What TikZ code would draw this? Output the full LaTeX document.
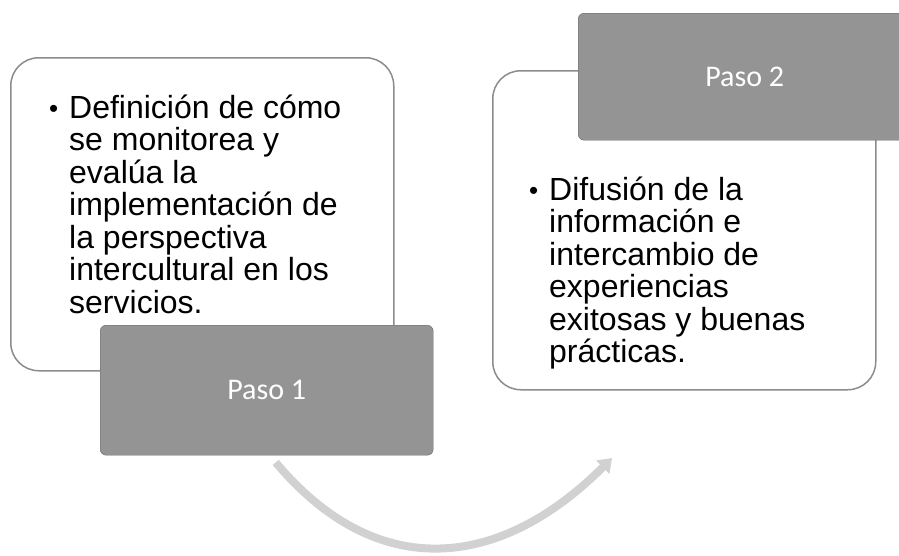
\documentclass[tikz,border=0pt]{standalone}
\usepackage{fontspec}
\setmainfont{Liberation Sans}
\newfontfamily\pasofont{Carlito}
\usetikzlibrary{arrows.meta, positioning, calc}
\tikzset{
  ciclo caja/.style={
    rectangle, rounded corners=28pt, draw=black!45, line width=1.5pt,
    fill=white, anchor=north west, inner sep=0pt
  },
  ciclo paso/.style={
    rectangle, rounded corners=6pt, draw=black!60, fill=black!42,
    anchor=north west, inner sep=0pt, text=white,
    font=\pasofont\fontsize{30}{31}\selectfont
  },
  ciclo texto/.style={
    anchor=base west, inner sep=0pt, text width=310pt, align=flush left,
    font=\fontsize{32}{32.5}\selectfont
  },
  ciclo flecha/.style={
    -{Triangle[width=18pt,length=13pt]}, line width=8pt, draw=black!18
  }
}
\newcommand{\vineta}[1]{\makebox[20pt][l]{\fontsize{26}{26}\selectfont\raisebox{1pt}{•}}%
  \parbox[t]{290pt}{\raggedright\hyphenpenalty=10000 #1}}

\begin{document}
\begin{tikzpicture}[x=1pt, y=1pt]
\clip (0,0) rectangle (899,-555);

% ====== Paso 1 ======
\node[ciclo caja, minimum width=383pt, minimum height=313pt] (caja1) at (10,-57) {};

% ====== Paso 2 ======
\node[ciclo caja, minimum width=383pt, minimum height=319pt] (caja2) at (492,-70) {};

\node[ciclo paso, minimum width=333pt, minimum height=130pt] (paso1) at (100,-325) {Paso 1};
\node[ciclo paso, minimum width=333pt, minimum height=127pt] (paso2) at (578,-13) {Paso 2};

\node[ciclo texto] (texto1) at (49,-118)
  {\vineta{Definición de cómo se monitorea y evalúa la implementación de la perspectiva intercultural en los servicios.}};
\node[ciclo texto] (texto2) at (529,-200)
  {\vineta{Difusión de la información e intercambio de experiencias exitosas y buenas prácticas.}};

% -- ciclo --
\coordinate (flecha ini) at ($(paso1.south)+(9,-7)$);
\coordinate (flecha fin) at (612,-458);
\draw[ciclo flecha] (flecha ini) to[out=-50, in=-135, looseness=1.2] (flecha fin);

\end{tikzpicture}
\end{document}
